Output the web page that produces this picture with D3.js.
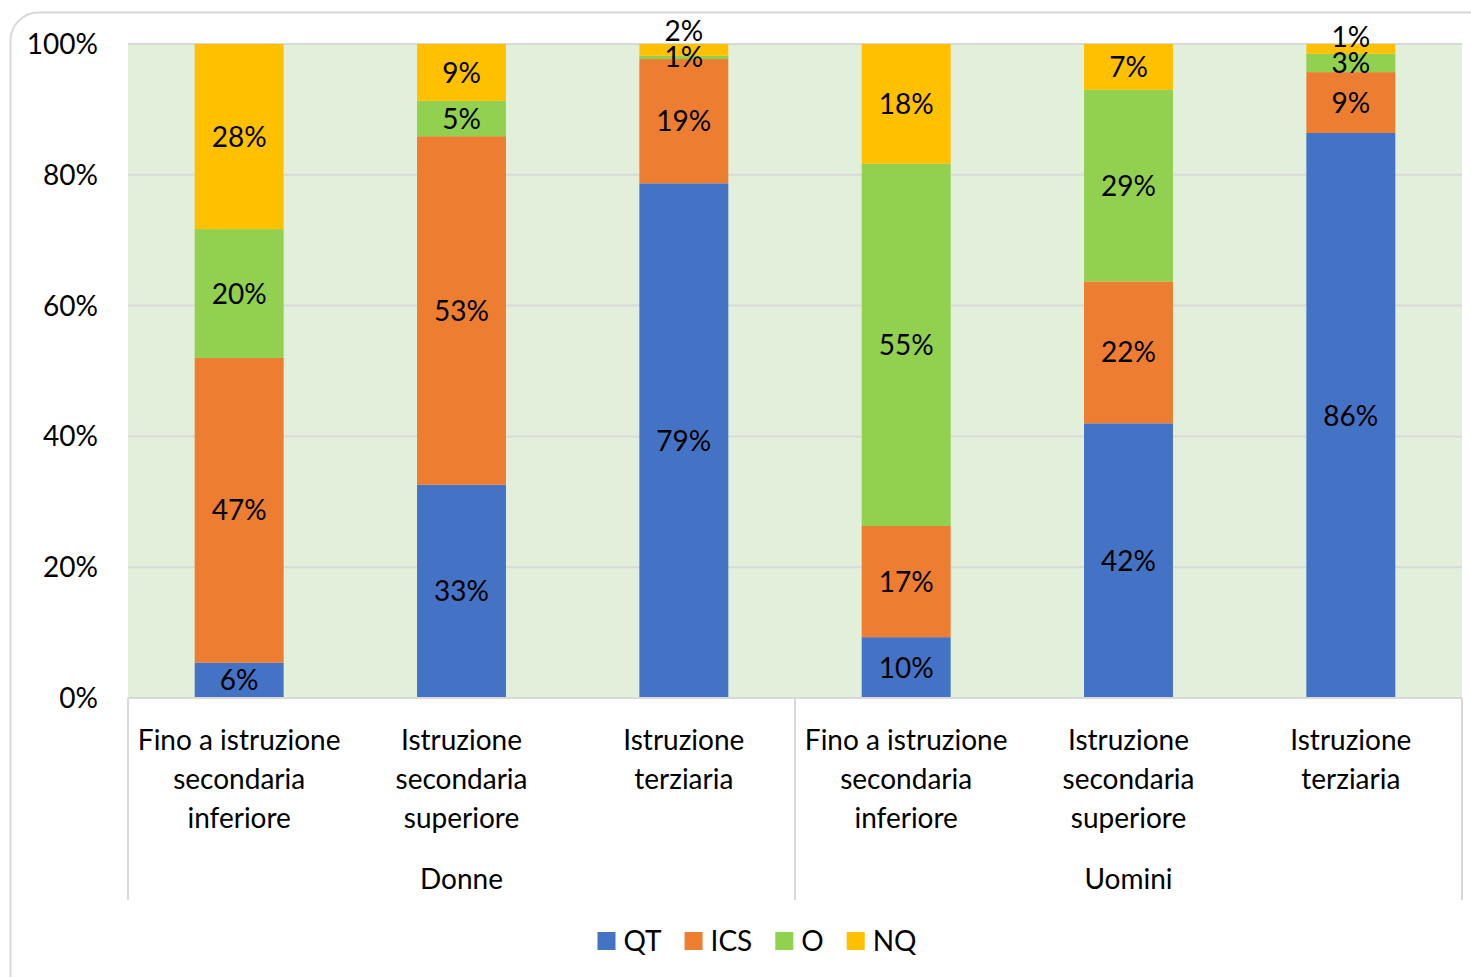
<!DOCTYPE html>
<html><head><meta charset="utf-8">
<script src="https://cdn.jsdelivr.net/npm/d3@7/dist/d3.min.js"></script>
<style>html,body{margin:0;padding:0;background:#fff;overflow:hidden}</style>
</head><body>
<svg id="c" width="1471" height="977"></svg>
<script>
const groups = ["Donne","Uomini"];
const categories = ["Fino a istruzione|secondaria|inferiore","Istruzione|secondaria|superiore","Istruzione|terziaria"];
const series = ["QT","ICS","O","NQ"];
const colors = ["#4472C4","#ED7D31","#92D050","#FFC000"];
// values per bar (Donne x3, Uomini x3) in %
const QT  = [5.4, 32.6, 78.7, 9.3, 42.0, 86.4];
const ICS = [46.6, 53.3, 19.0, 17.0, 21.7, 9.3];
const O   = [19.7, 5.4, 0.5, 55.4, 29.3, 2.8];
const NQ  = [28.3, 8.7, 1.8, 18.3, 7.0, 1.5];
const labels = {
  QT:  ["6%","33%","79%","10%","42%","86%"],
  ICS: ["47%","53%","19%","17%","22%","9%"],
  O:   ["20%","5%","1%","55%","29%","3%"],
  NQ:  ["28%","9%","2%","18%","7%","1%"]
};
const yTicks = [0,20,40,60,80,100];

const svg = d3.select("#c");
const font = "Lato, 'Open Sans', sans-serif";
const fs = 28;
svg.append("rect").attr("x",10.5).attr("y",12.5).attr("width",1500).attr("height",1000)
  .attr("rx",28).attr("fill","#fff").attr("stroke","#d9d9d9").attr("stroke-width",2);

const L=128, R=1462, T=44, B=698;
const bars = [];
groups.forEach(g=>categories.forEach(c=>bars.push(g+"::"+c)));
const x = d3.scaleBand().domain(bars).range([L,R]).paddingInner(0.6).paddingOuter(0.3);
const y = d3.scaleLinear().domain([0,100]).range([B,T]);

svg.append("rect").attr("x",L).attr("y",T).attr("width",R-L).attr("height",B-T).attr("fill","#E2EFDA");
svg.append("g").selectAll("line").data(yTicks).join("line")
  .attr("x1",L).attr("x2",R).attr("y1",d=>y(d)).attr("y2",d=>y(d))
  .attr("stroke","#d9d9d9").attr("stroke-width",2);

const stack = d3.stack().keys(series)(bars.map((b,i)=>({QT:QT[i],ICS:ICS[i],O:O[i],NQ:NQ[i]})));
stack.forEach((s,si)=>{
  svg.append("g").selectAll("rect").data(s).join("rect")
    .attr("x",(d,i)=>x(bars[i])).attr("width",x.bandwidth())
    .attr("y",d=>y(d[1])).attr("height",d=>y(d[0])-y(d[1]))
    .attr("fill",colors[si]);
});
// label positions: centre of segment, pushed upward if overlapping the label below
const minGap = 26;
bars.forEach((b,i)=>{
  let prev = Infinity;
  stack.forEach((s,si)=>{
    const d = s[i];
    let cy = (y(d[0])+y(d[1]))/2;
    if (cy > prev - minGap) cy = prev - minGap;
    prev = cy;
    svg.append("text").attr("x",x(b)+x.bandwidth()/2).attr("y",cy)
      .attr("dy","0.36em").attr("text-anchor","middle")
      .attr("font-family",font).attr("font-size",fs).attr("fill","#000")
      .text(labels[series[si]][i]);
  });
});

// y axis labels
svg.append("g").selectAll("text").data(yTicks).join("text")
  .attr("x",98).attr("y",d=>y(d)).attr("dy","0.36em").attr("text-anchor","end")
  .attr("font-family",font).attr("font-size",fs).attr("fill","#000").text(d=>d+"%");

// x axis
const axisC = "#d9d9d9";
svg.append("line").attr("x1",L).attr("x2",R).attr("y1",B).attr("y2",B).attr("stroke",axisC).attr("stroke-width",2);
const gx = d3.scaleBand().domain(groups).range([L,R]);
[L, L+(R-L)/2, R].forEach(xx=>svg.append("line").attr("x1",xx).attr("x2",xx).attr("y1",B).attr("y2",900).attr("stroke",axisC).attr("stroke-width",2));
bars.forEach(b=>{
  const lines = b.split("::")[1].split("|");
  const t = svg.append("text").attr("text-anchor","middle")
    .attr("font-family",font).attr("font-size",fs).attr("fill","#000");
  lines.forEach((l,i)=>t.append("tspan").attr("x",x(b)+x.bandwidth()/2).attr("y",750+i*39).text(l));
});
groups.forEach(g=>svg.append("text").attr("x",gx(g)+gx.bandwidth()/2).attr("y",889)
  .attr("text-anchor","middle").attr("font-family",font).attr("font-size",fs).text(g));

// legend
const leg = svg.append("g");
const items = [];
let lx = 0;
series.forEach((s,i)=>{
  const gI = leg.append("g");
  gI.append("rect").attr("x",lx).attr("y",932).attr("width",18).attr("height",18).attr("fill",colors[i]);
  const t = gI.append("text").attr("x",lx+26).attr("y",951).attr("font-family",font).attr("font-size",fs).text(s);
  lx += 26 + t.node().getComputedTextLength() + 23;
});
const totalW = lx - 23;
leg.attr("transform",`translate(${757 - totalW/2},0)`);
</script>
</body></html>
